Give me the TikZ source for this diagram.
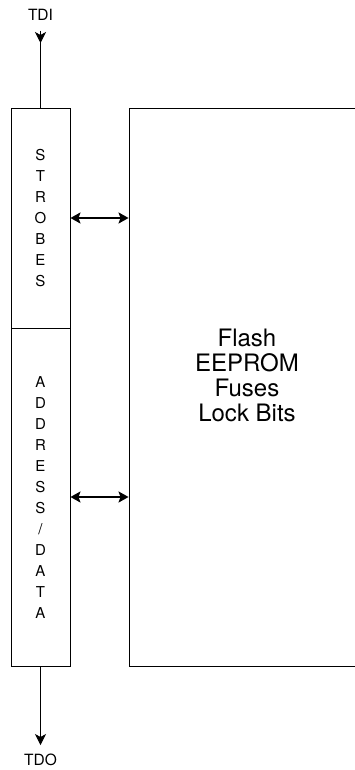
\documentclass[tikz,border=0pt]{standalone}
\usepackage{fontspec}
\setmainfont{TeX Gyre Heros}
\usetikzlibrary{arrows.meta,positioning}
\begin{document}
\begin{tikzpicture}[x=1pt,y=-1pt,
    box/.style={draw, line width=0.9pt, inner sep=0pt},
    letter/.style={font=\fontsize{15}{17}\selectfont, inner sep=0pt},
    pinlabel/.style={font=\fontsize{15.5}{18}\selectfont, inner sep=0pt},
    pin/.style={line width=0.9pt, -{Stealth[length=11pt,width=11pt,inset=3pt]}},
    bus/.style={line width=2pt, {Stealth[length=10pt,width=11pt,inset=2pt]}-{Stealth[length=10pt,width=11pt,inset=2pt]}}]
    \useasboundingbox (0,0) rectangle (355,770);
    \clip (0,0) rectangle (355,770);

    % Registro di scansione a sinistra
    \node[box, minimum width=59pt, minimum height=220pt] (strobes) at (40.5,218) {};
    \node[box, minimum width=59pt, minimum height=338pt] (addr) at (40.5,497) {};

    % Memoria non volatile (bordo destro fuori pagina)
    \node[box, minimum width=236pt, minimum height=558pt] (mem) at (247,387) {};
    \node[font=\fontsize{24}{25}\selectfont, align=center] (memtext) at (247,375)
        {Flash\\EEPROM\\Fuses\\Lock Bits};

    % Lettere verticali
    \foreach \c [count=\i] in {S,T,R,O,B,E,S} {
        \node[letter] (s\i) at (40.5, 155+\i*21-21) {\c};
    }
    \foreach \c [count=\i] in {A,D,D,R,E,S,S,/,D,A,T,A} {
        \node[letter] (a\i) at (40.5, 382+\i*21-21) {\c};
    }

    % Ingresso e uscita seriali
    \node[pinlabel] (tdi) at (40.5,15) {TDI};
    \node[pinlabel] (tdo) at (40.5,760) {TDO};
    \coordinate (tdistart) at (40.5,31);
    \coordinate (tditip) at (40.5,43);
    \coordinate (tdotip) at (40.5,745);
    \draw[line width=0.9pt] (tdistart) -- (strobes.north);
    \draw[pin] (tdistart) -- (tditip);
    \draw[pin] (addr.south) -- (tdotip);

    % Collegamenti bidirezionali
    \draw[bus] (strobes.east) -- (strobes.east -| mem.west);
    \draw[bus] (addr.east) -- (addr.east -| mem.west);
\end{tikzpicture}
\end{document}
